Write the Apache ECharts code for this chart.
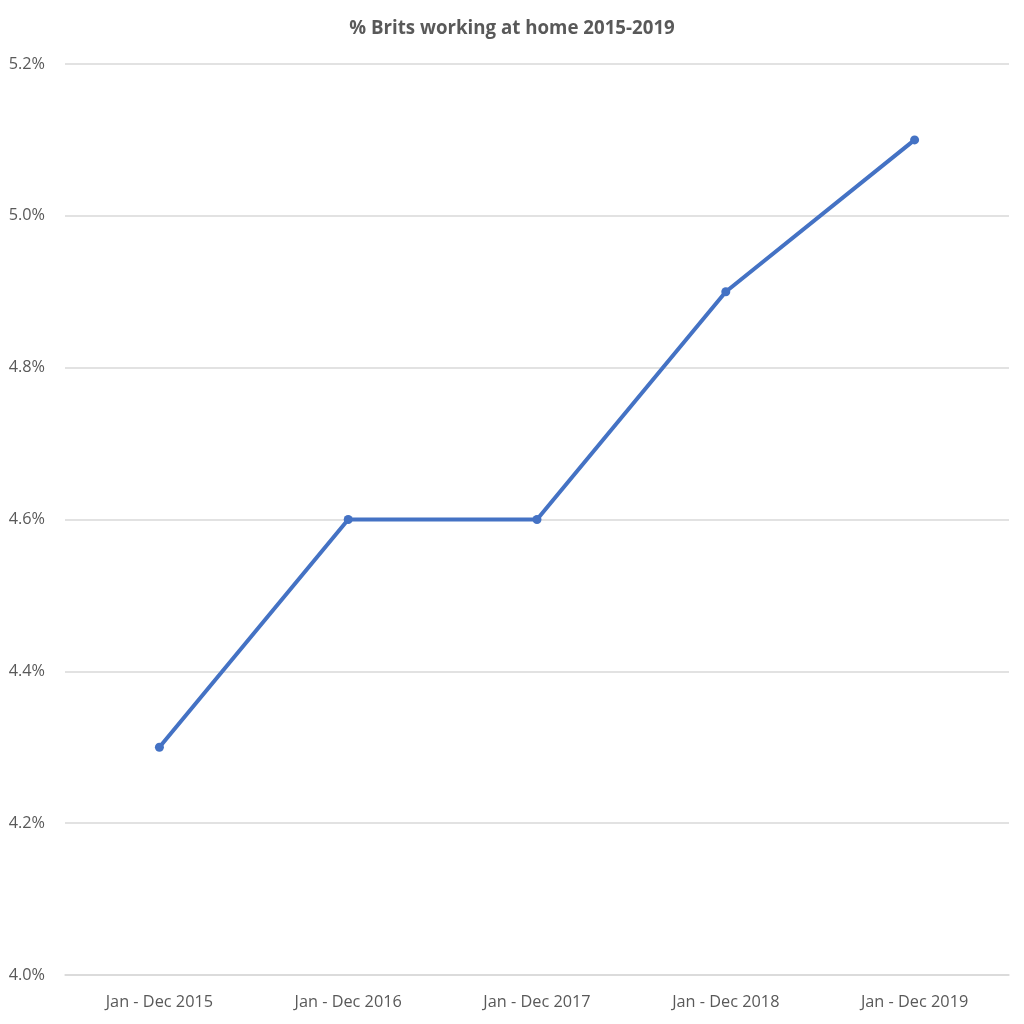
<!DOCTYPE html>
<html><head><meta charset="utf-8">
<script src="https://cdn.jsdelivr.net/npm/echarts@6/dist/echarts.min.js"></script>
<style>html,body{margin:0;padding:0;background:#fff}#c{width:1024px;height:1024px}</style>
</head><body><div id="c"></div>
<script>
const categories = ['Jan - Dec 2015','Jan - Dec 2016','Jan - Dec 2017','Jan - Dec 2018','Jan - Dec 2019'];
const values = [4.3, 4.6, 4.6, 4.9, 5.1];
const yMin = 4.0, yMax = 5.2, yStep = 0.2;
const titleText = '% Brits working at home 2015-2019';
const chart = echarts.init(document.getElementById('c'));
chart.setOption({
  animation:false,
  backgroundColor:'#fff',
  title:{text:titleText,left:'center',top:14,textStyle:{fontFamily:'Open Sans',fontWeight:'bold',fontSize:18.7,color:'#595959'}},
  grid:{left:65,right:15,top:64,bottom:49},
  xAxis:{type:'category',data:categories,boundaryGap:true,
    axisLine:{lineStyle:{color:'#d9d9d9',width:1.5}},axisTick:{show:false},
    axisLabel:{fontFamily:'Open Sans',fontSize:16.3,color:'#595959',margin:19}},
  yAxis:{type:'value',min:yMin,max:yMax,interval:yStep,
    axisLine:{show:false},axisTick:{show:false},
    splitLine:{lineStyle:{color:'#d9d9d9',width:1.5}},
    axisLabel:{fontFamily:'Open Sans',fontSize:16.3,color:'#595959',margin:20,formatter:v=>v.toFixed(1)+'%'}},
  series:[{type:'line',data:values,symbol:'circle',symbolSize:9,
    lineStyle:{color:'#4472C4',width:4},itemStyle:{color:'#4472C4'}}]
});
</script></body></html>
